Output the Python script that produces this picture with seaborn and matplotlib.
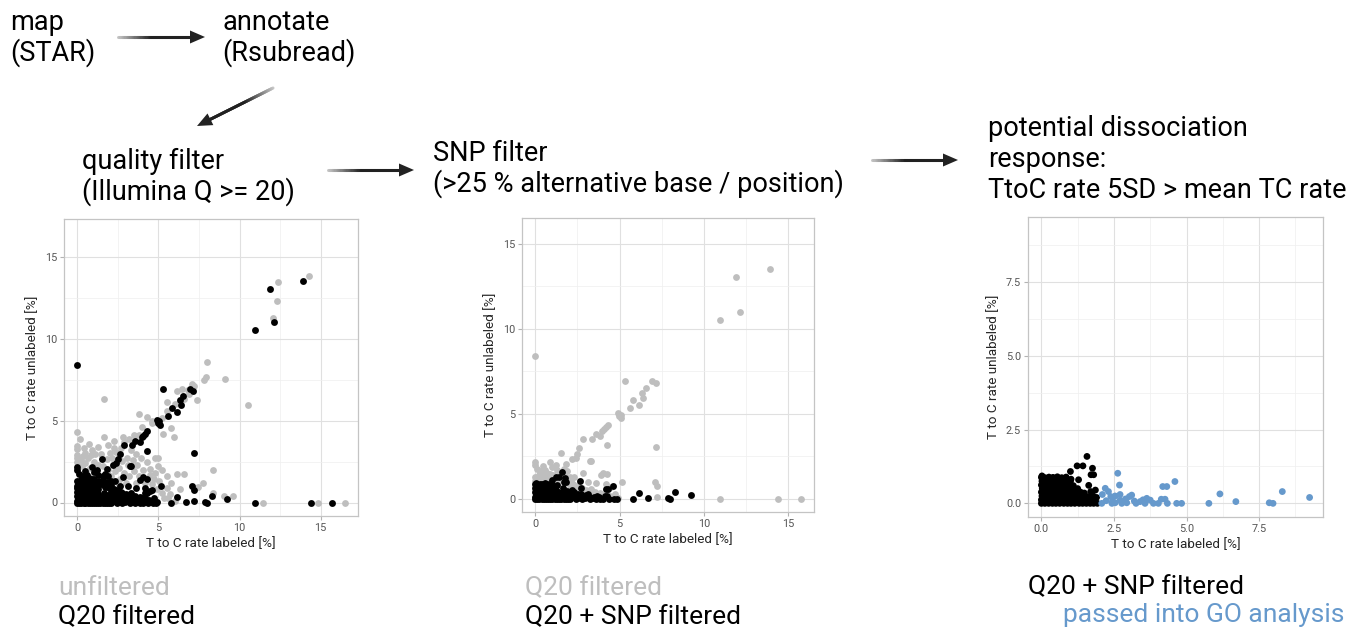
import numpy as np
import pandas as pd
import seaborn as sns
import matplotlib.pyplot as plt
from matplotlib.collections import LineCollection
from matplotlib.patches import Polygon
from matplotlib.ticker import MultipleLocator, FormatStrFormatter

# T>C conversion rates per gene, (labeled %, unlabeled %)
# genes left after Q20 + SNP filtering
snp_pts = [
    # dense core near the origin
    (0, 0), (0.12, 0), (0.25, 0), (0.38, 0), (0.5, 0), (0.63, 0), (0.77, 0), (0.9, 0), (1.02, 0),
    (1.15, 0), (1.3, 0), (1.42, 0), (1.55, 0), (1.68, 0), (1.8, 0), (1.93, 0),
    (0, 0.12), (0.13, 0.11), (0.26, 0.13), (0.4, 0.12), (0.52, 0.1), (0.66, 0.13), (0.8, 0.12),
    (0.93, 0.11), (1.05, 0.13), (1.18, 0.12), (1.32, 0.1), (1.45, 0.12), (1.58, 0.13), (1.72, 0.11),
    (1.85, 0.12),
    (0.02, 0.25), (0.15, 0.24), (0.28, 0.26), (0.42, 0.25), (0.55, 0.23), (0.68, 0.26), (0.82, 0.25),
    (0.95, 0.24), (1.1, 0.26), (1.22, 0.25), (1.36, 0.24), (1.5, 0.26), (1.64, 0.22), (1.78, 0.25),
    (1.9, 0.2),
    (0, 0.38), (0.12, 0.37), (0.25, 0.39), (0.4, 0.38), (0.53, 0.36), (0.67, 0.39), (0.8, 0.38),
    (0.94, 0.37), (1.07, 0.39), (1.2, 0.36), (1.35, 0.38), (1.48, 0.35), (1.7, 0.4), (1.86, 0.45),
    (0.03, 0.5), (0.16, 0.51), (0.3, 0.49), (0.44, 0.5), (0.57, 0.52), (0.7, 0.49), (0.84, 0.5),
    (0.97, 0.51), (1.1, 0.48), (1.25, 0.5),
    (0, 0.62), (0.14, 0.63), (0.27, 0.61), (0.41, 0.62), (0.55, 0.64), (0.68, 0.61), (0.82, 0.63),
    (0.96, 0.62), (1.1, 0.6), (1.63, 0.61),
    (0.02, 0.75), (0.15, 0.76), (0.3, 0.74), (0.43, 0.75), (0.58, 0.77), (0.72, 0.74), (0.86, 0.76),
    (1.0, 0.75), (1.28, 0.8),
    (0, 0.88), (0.12, 0.87), (0.26, 0.89), (0.4, 0.88), (0.55, 0.9), (0.7, 0.87), (0.85, 0.89),
    (0.02, 0.93), (1.02, 0.82),
    # sparse points above the core
    (1.0, 1.08), (1.23, 1.27), (1.43, 1.27), (1.57, 1.59), (1.76, 1.19), (1.71, 0.97), (1.8, 0.97),
    # tail along the labeled axis
    (2.08, 0), (2.43, 0), (2.54, 0.02), (2.77, 0), (2.94, 0.02), (3.26, 0), (3.4, 0.06), (3.57, 0),
    (3.86, 0), (4.03, 0), (4.34, 0), (4.66, 0), (4.83, 0),
    (2.23, 0.09), (2.39, 0.23), (2.71, 0.11), (3.03, 0.23), (3.11, 0.28), (3.63, 0.17), (3.75, 0.11),
    (4.13, 0.14), (4.26, 0.14), (2.9, 0.15), (3.2, 0.08), (3.5, 0.12), (2.45, 0.08), (2.1, 0.3),
    (2.2, 0.51), (2.31, 0.4), (2.54, 0.25), (2.69, 0.62), (2.71, 0.3), (2.63, 1.02),
    (4.18, 0.57), (4.32, 0.57), (4.6, 0.74), (5.77, 0), (6.15, 0.32), (6.7, 0.06), (7.85, 0.02),
    (7.98, 0), (8.3, 0.4), (9.24, 0.2),
]

# genes removed by the SNP filter (pass Q20)
snp_drop_pts = [
    (0, 8.38), (10.93, 10.54), (11.89, 13.04), (12.15, 10.99), (13.92, 13.53), (10.96, 0), (14.41, 0),
    (15.73, 0),
    (5.3, 6.91), (6.93, 6.95), (7.13, 6.82), (6.54, 6.52), (6.3, 6.23), (6.4, 5.93), (6.14, 5.54),
    (5.81, 5.78), (5.61, 5.31), (4.9, 5.05), (5.06, 4.95), (5.1, 4.72), (4.96, 4.86),
    (4.28, 4.35), (4.17, 4.2), (4.07, 4.07), (3.98, 3.98), (4.27, 3.13), (3.84, 3.68), (3.58, 3.78),
    (3.39, 3.49), (2.85, 3.49), (3.33, 2.21), (2.6, 2.96), (2.5, 2.64), (2.4, 2.41), (2.2, 2.31),
    (2.8, 1.53), (1.52, 2.66), (0, 2.17), (0, 1.96), (0.89, 2.17), (1.81, 2.06), (1.71, 1.72),
    (2.07, 1.29), (4.02, 1.53), (4.27, 1.43), (7.17, 3.04), (7.09, 1.0), (7.22, 0.74), (5.16, 0.98),
    (4.72, 0.25), (7.22, 0.1),
    # rim of the core
    (0, 1.02), (0.1, 1.15), (0, 1.3), (0.2, 1.4), (0.25, 1.05), (0.35, 1.22), (0.5, 1.0), (0.55, 1.35),
    (0.65, 1.15), (0.8, 1.3), (0.8, 1.02), (0.95, 1.2), (1.05, 1.42), (1.15, 1.1), (1.3, 1.0),
    (1.35, 1.32), (1.5, 1.12), (1.6, 1.38), (1.7, 1.05), (1.85, 1.25), (1.95, 0.95),
    (0.15, 1.3), (0.4, 1.1), (0.7, 1.25), (1.1, 1.3), (1.25, 1.15), (0.45, 1.45), (0.9, 1.45),
    (2.05, 0.7), (2.1, 1.05), (2.25, 0.85), (2.35, 0.6), (2.5, 0.75), (2.6, 0.45), (2.75, 0.6),
    (2.9, 0.35), (3.0, 0.5), (3.15, 0.4), (3.3, 0.55), (3.4, 0.3), (3.55, 0.42), (3.7, 0.25),
    (3.85, 0.35), (4.0, 0.2), (4.2, 0.3), (4.4, 0.15), (4.55, 0.1), (4.9, 0.05),
    (0.3, 1.6), (0.1, 1.75), (0.6, 1.7), (1.0, 1.85), (1.3, 1.7), (0.45, 1.95), (1.2, 2.0), (0.7, 1.5),
    (1.9, 1.6), (2.3, 1.3), (3.26, 2.22), (3.87, 1.4), (4.18, 0.88), (4.49, 0.68), (3.1, 1.0),
    (3.6, 0.9),
]

# genes removed by the Q20 quality filter
q20_drop_pts = [
    (16.48, 0), (14.84, 0), (11.45, 0), (14.26, 13.83), (12.38, 13.48), (12.32, 12.31), (12.07, 11.26),
    (10.53, 5.96), (9.1, 7.56), (8.01, 8.55), (7.91, 7.67), (7.83, 7.5), (1.66, 6.33),
    (0, 4.32), (0.18, 3.86), (0, 3.45), (0, 3.25), (0, 2.73), (1.62, 3.97), (2.23, 3.76), (3.77, 5.4),
    (4.28, 5.2), (5.31, 4.17), (5.96, 4.0), (5.78, 4.54), (5.51, 6.12), (6.13, 6.78), (6.82, 6.84),
    (7.05, 7.25), (7.36, 6.23), (6.43, 6.95), (7.2, 7.1),
    (8.34, 2.01), (6.13, 1.75), (6.6, 1.71), (7.77, 1.19), (7.46, 0.92), (5.78, 1.19), (8.38, 0.58),
    (9.61, 0.37), (9.06, 0.41), (5.0, 2.73), (4.96, 2.22), (4.8, 1.81), (4.49, 2.06), (5.6, 0.3),
    (6.0, 0.1),
    (3.2, 3.9), (3.5, 4.15), (4.0, 4.6), (4.6, 4.85), (4.6, 5.0), (5.2, 5.15), (5.5, 5.6), (6.0, 6.0),
    (6.6, 6.3), (6.9, 6.6), (2.9, 3.7), (3.8, 4.1),
    # grey cloud above the core
    (0, 2.5), (0, 2.9), (0.2, 2.6), (0.3, 2.2), (0.35, 2.85), (0.49, 3.04), (0.5, 2.4), (0.55, 1.9),
    (0.65, 2.7), (0.75, 2.1), (0.85, 2.9), (1.0, 2.5), (1.05, 1.75), (1.1, 2.94), (1.25, 2.3),
    (1.3, 1.6), (1.45, 2.95), (1.55, 2.2), (1.65, 1.55), (1.82, 2.63), (1.9, 2.0), (2.0, 3.0),
    (2.05, 1.6), (2.15, 2.7), (2.23, 3.3), (2.3, 1.9), (2.4, 3.1), (2.55, 2.1), (2.6, 1.45),
    (2.7, 3.3), (2.75, 2.55), (2.9, 1.8), (3.05, 2.73), (3.1, 2.3), (3.2, 1.6), (3.3, 3.2), (3.4, 2.6),
    (3.5, 1.9), (3.6, 2.95), (3.7, 2.3), (3.8, 1.6), (3.95, 2.7), (4.05, 2.0), (4.15, 1.2),
    (4.3, 2.45), (4.45, 1.7), (4.6, 1.1), (4.75, 1.45), (4.9, 0.8), (5.05, 1.3), (5.2, 0.6),
    (5.35, 0.3), (5.5, 0.9), (5.7, 0.5), (6.3, 0.8), (3.0, 1.2), (2.5, 1.2), (3.6, 1.2), (0.9, 3.2),
    (0.4, 3.3), (1.3, 3.4), (0.7, 3.6), (1.9, 3.5), (2.8, 4.0), (4.8, 2.7), (5.2, 2.0), (5.5, 1.6),
]

go_cutoff = 2.0  # labeled rate above mean + 5 SD
GREY, BLACK, BLUE = "#BEBEBE", "#000000", "#6699CC"

snp = pd.DataFrame(snp_pts, columns=["x", "y"])
q20 = pd.concat([pd.DataFrame(snp_drop_pts, columns=["x", "y"]), snp], ignore_index=True)
unf = pd.concat([pd.DataFrame(q20_drop_pts, columns=["x", "y"]), q20], ignore_index=True)
snp["go"] = np.where(snp["x"] > go_cutoff, "passed", "kept")

sns.set_theme(style="white")
plt.rcParams["font.family"] = ["Roboto", "DejaVu Sans"]

W, H = 1357, 631
fig = plt.figure(figsize=(W / 100, H / 100), dpi=100)


def px_axes(x0, y0, x1, y1):
    return fig.add_axes([x0 / W, 1 - y1 / H, (x1 - x0) / W, (y1 - y0) / H])


def style(ax, data, major, minor, fmt):
    m = max(data["x"].max(), data["y"].max())
    lim = (-0.05 * m, 1.05 * m)
    ax.set_xlim(lim)
    ax.set_ylim(lim)
    for axis in (ax.xaxis, ax.yaxis):
        axis.set_major_locator(MultipleLocator(major))
        axis.set_minor_locator(MultipleLocator(minor))
        axis.set_major_formatter(FormatStrFormatter(fmt))
    ax.grid(which="major", color="#E0E0E0", lw=0.8)
    ax.grid(which="minor", color="#EFEFEF", lw=0.5)
    ax.set_axisbelow(True)
    ax.tick_params(which="major", length=3, width=0.8, color="#B3B3B3",
                   labelsize=7.8, labelcolor="#555555", pad=2, bottom=True, left=True)
    ax.tick_params(which="minor", length=0)
    for s in ax.spines.values():
        s.set_color("#C4C4C4")
        s.set_linewidth(0.9)
    ax.set_xlabel("T to C rate labeled [%]", fontsize=9.7, labelpad=3)
    ax.set_ylabel("T to C rate unlabeled [%]", fontsize=9.7, labelpad=4)


kw = dict(s=24, linewidth=0, legend=False)

ax1 = px_axes(64, 219, 358, 516)
sns.scatterplot(data=unf, x="x", y="y", color=GREY, ax=ax1, **kw)
sns.scatterplot(data=q20, x="x", y="y", color=BLACK, ax=ax1, **kw)
style(ax1, unf, 5, 2.5, "%g")

ax2 = px_axes(522, 218, 814, 512)
sns.scatterplot(data=q20, x="x", y="y", color=GREY, ax=ax2, **kw)
sns.scatterplot(data=snp, x="x", y="y", color=BLACK, ax=ax2, **kw)
style(ax2, q20, 5, 2.5, "%g")

ax3 = px_axes(1028, 217, 1323, 517)
sns.scatterplot(data=snp, x="x", y="y", hue="go", palette={"kept": BLACK, "passed": BLUE},
                ax=ax3, **kw)
style(ax3, snp, 2.5, 1.25, "%.1f")

# overlay in pixel coordinates for the workflow text and arrows
ov = fig.add_axes([0, 0, 1, 1])
ov.set_xlim(0, W)
ov.set_ylim(H, 0)
ov.axis("off")
ov.patch.set_visible(False)


def arrow(p0, p1):
    p0, p1 = np.array(p0, float), np.array(p1, float)
    d = (p1 - p0) / np.linalg.norm(p1 - p0)
    nrm = np.array([-d[1], d[0]])
    head = 15
    end = p1 - d * (head - 2)
    t = np.linspace(0, 1, 61)
    pts = p0 + (end - p0) * t[:, None]
    segs = np.stack([pts[:-1], pts[1:]], axis=1)
    # fade from near white at the tail to dark grey
    k = np.clip(t[:-1] / 0.45, 0, 1)
    cols = [(1 - 0.87 * (0.25 + 0.75 * a),) * 3 for a in k]
    ov.add_collection(LineCollection(segs, colors=cols, linewidths=2.2, capstyle="round"))
    base = p1 - d * head
    tri = [p1, base + nrm * 6.5, base - nrm * 6.5]
    ov.add_patch(Polygon(tri, closed=True, color="#222222", lw=0))


arrow((118, 37), (205, 37))
arrow((273, 88), (197, 126))
arrow((328, 170), (414, 170))
arrow((872, 160), (958, 160))

big = 19.5
txt = [
    (10, 30, "map"), (10, 61, "(STAR)"),
    (222, 30, "annotate"), (222, 61, "(Rsubread)"),
    (82, 169, "quality filter"), (82, 200, "(Illumina Q >= 20)"),
    (433, 161, "SNP filter"), (433, 192, "(>25 % alternative base / position)"),
    (988, 136, "potential dissociation"), (988, 167, "response:"),
    (988, 198, "TtoC rate 5SD > mean TC rate"),
]
for x, y, s in txt:
    ov.text(x, y, s, fontsize=big, va="baseline", ha="left", color="black")

low = [
    (58, 595, "unfiltered", GREY), (58, 624, "Q20 filtered", BLACK),
    (525, 595, "Q20 filtered", GREY), (525, 624, "Q20 + SNP filtered", BLACK),
    (1028, 594, "Q20 + SNP filtered", BLACK), (1063, 622, "passed into GO analysis", BLUE),
]
for x, y, s, c in low:
    ov.text(x, y, s, fontsize=19, va="baseline", ha="left", color=c)

fig.savefig("out.png", dpi=100)
